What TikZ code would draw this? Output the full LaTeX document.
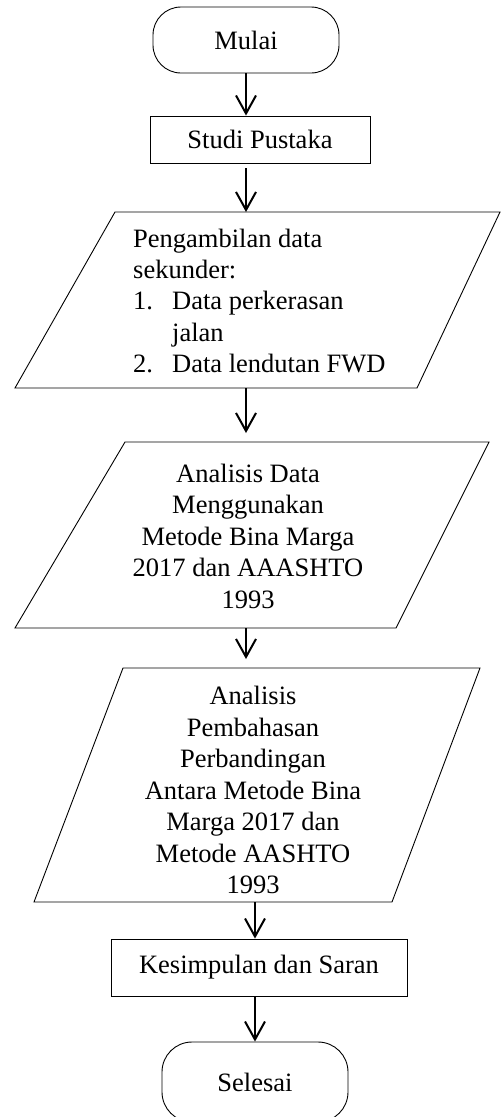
\documentclass[tikz,border=0pt]{standalone}
\usepackage{fontspec}
\setmainfont{Liberation Serif}
\usetikzlibrary{arrows.meta}
\tikzset{
  every node/.style={font=\fontsize{26.5}{31.5}\selectfont},
  box/.style={draw, line width=0.9pt, inner sep=0pt},
  term/.style={draw, line width=0.9pt, rounded corners=28pt, inner sep=0pt},
  txt/.style={inner sep=0pt, align=center},
  arr/.style={line width=2pt, -{Straight Barb[length=18pt,width=20pt,line width=2pt]}},
}
\def\parabox(#1)(#2:#3)(#4:#5)(#6)% Syntax: (name) (top left:top right) (bottom left:bottom right) ()
    { \coordinate (#1-tl) at (#2); \coordinate (#1-tr) at (#3);
      \coordinate (#1-bl) at (#4); \coordinate (#1-br) at (#5);
      \draw[line width=0.9pt] (#1-tl) -- (#1-tr) -- (#1-br) -- (#1-bl) -- cycle; }
\begin{document}
\begin{tikzpicture}[x=1pt,y=-1pt]
   \useasboundingbox (0,0) rectangle (502,1117);

   % start and literature
   \node[term, minimum width=186pt, minimum height=66pt] (mulai) at (246,40) {Mulai};
   \node[box, minimum width=220pt, minimum height=47pt] (studi) at (260,139.5) {Studi Pustaka};

   % secondary data
   \parabox(data)(115,212:500,212)(15,388:417,388)()
   \node[txt, align=left, anchor=west] (dataText) at (133,301) {Pengambilan data\\
     sekunder:\\
     \makebox[39pt][l]{1.}Data perkerasan\\
     \hspace*{39pt}jalan\\
     \makebox[39pt][l]{2.}Data lendutan FWD};

   % analysis
   \parabox(ana)(125,442:489,442)(15,628:396,628)()
   \node[txt] (anaText) at (248,536) {Analisis Data\\Menggunakan\\Metode Bina Marga\\2017 dan AAASHTO\\1993};

   % comparison
   \parabox(bahas)(123,668:480,668)(34,902:392,902)()
   \node[txt] (bahasText) at (253,790) {Analisis\\Pembahasan\\Perbandingan\\Antara Metode Bina\\Marga 2017 dan\\Metode AASHTO\\1993};

   % conclusion and end
   \node[box, minimum width=296pt, minimum height=57pt] (kesim) at (259,967.5) {Kesimpulan dan Saran};
   \node[term, rounded corners=30pt, minimum width=186pt, minimum height=80pt] (selesai) at (255,1082) {Selesai};

   % arrows
   \draw[arr] (mulai.south) -- (mulai.south |- studi.north);
   \draw[arr, shorten <=5pt] (mulai.south |- studi.south) -- (mulai.south |- data-tl);
   \draw[arr, shorten >=9pt] (mulai.south |- data-bl) -- (mulai.south |- ana-tl);
   \draw[arr, shorten >=9pt] (mulai.south |- ana-bl) -- (mulai.south |- bahas-tl);
   \draw[arr] (selesai.north |- bahas-bl) -- (selesai.north |- kesim.north);
   \draw[arr] (selesai.north |- kesim.south) -- (selesai.north);
\end{tikzpicture}
\end{document}
